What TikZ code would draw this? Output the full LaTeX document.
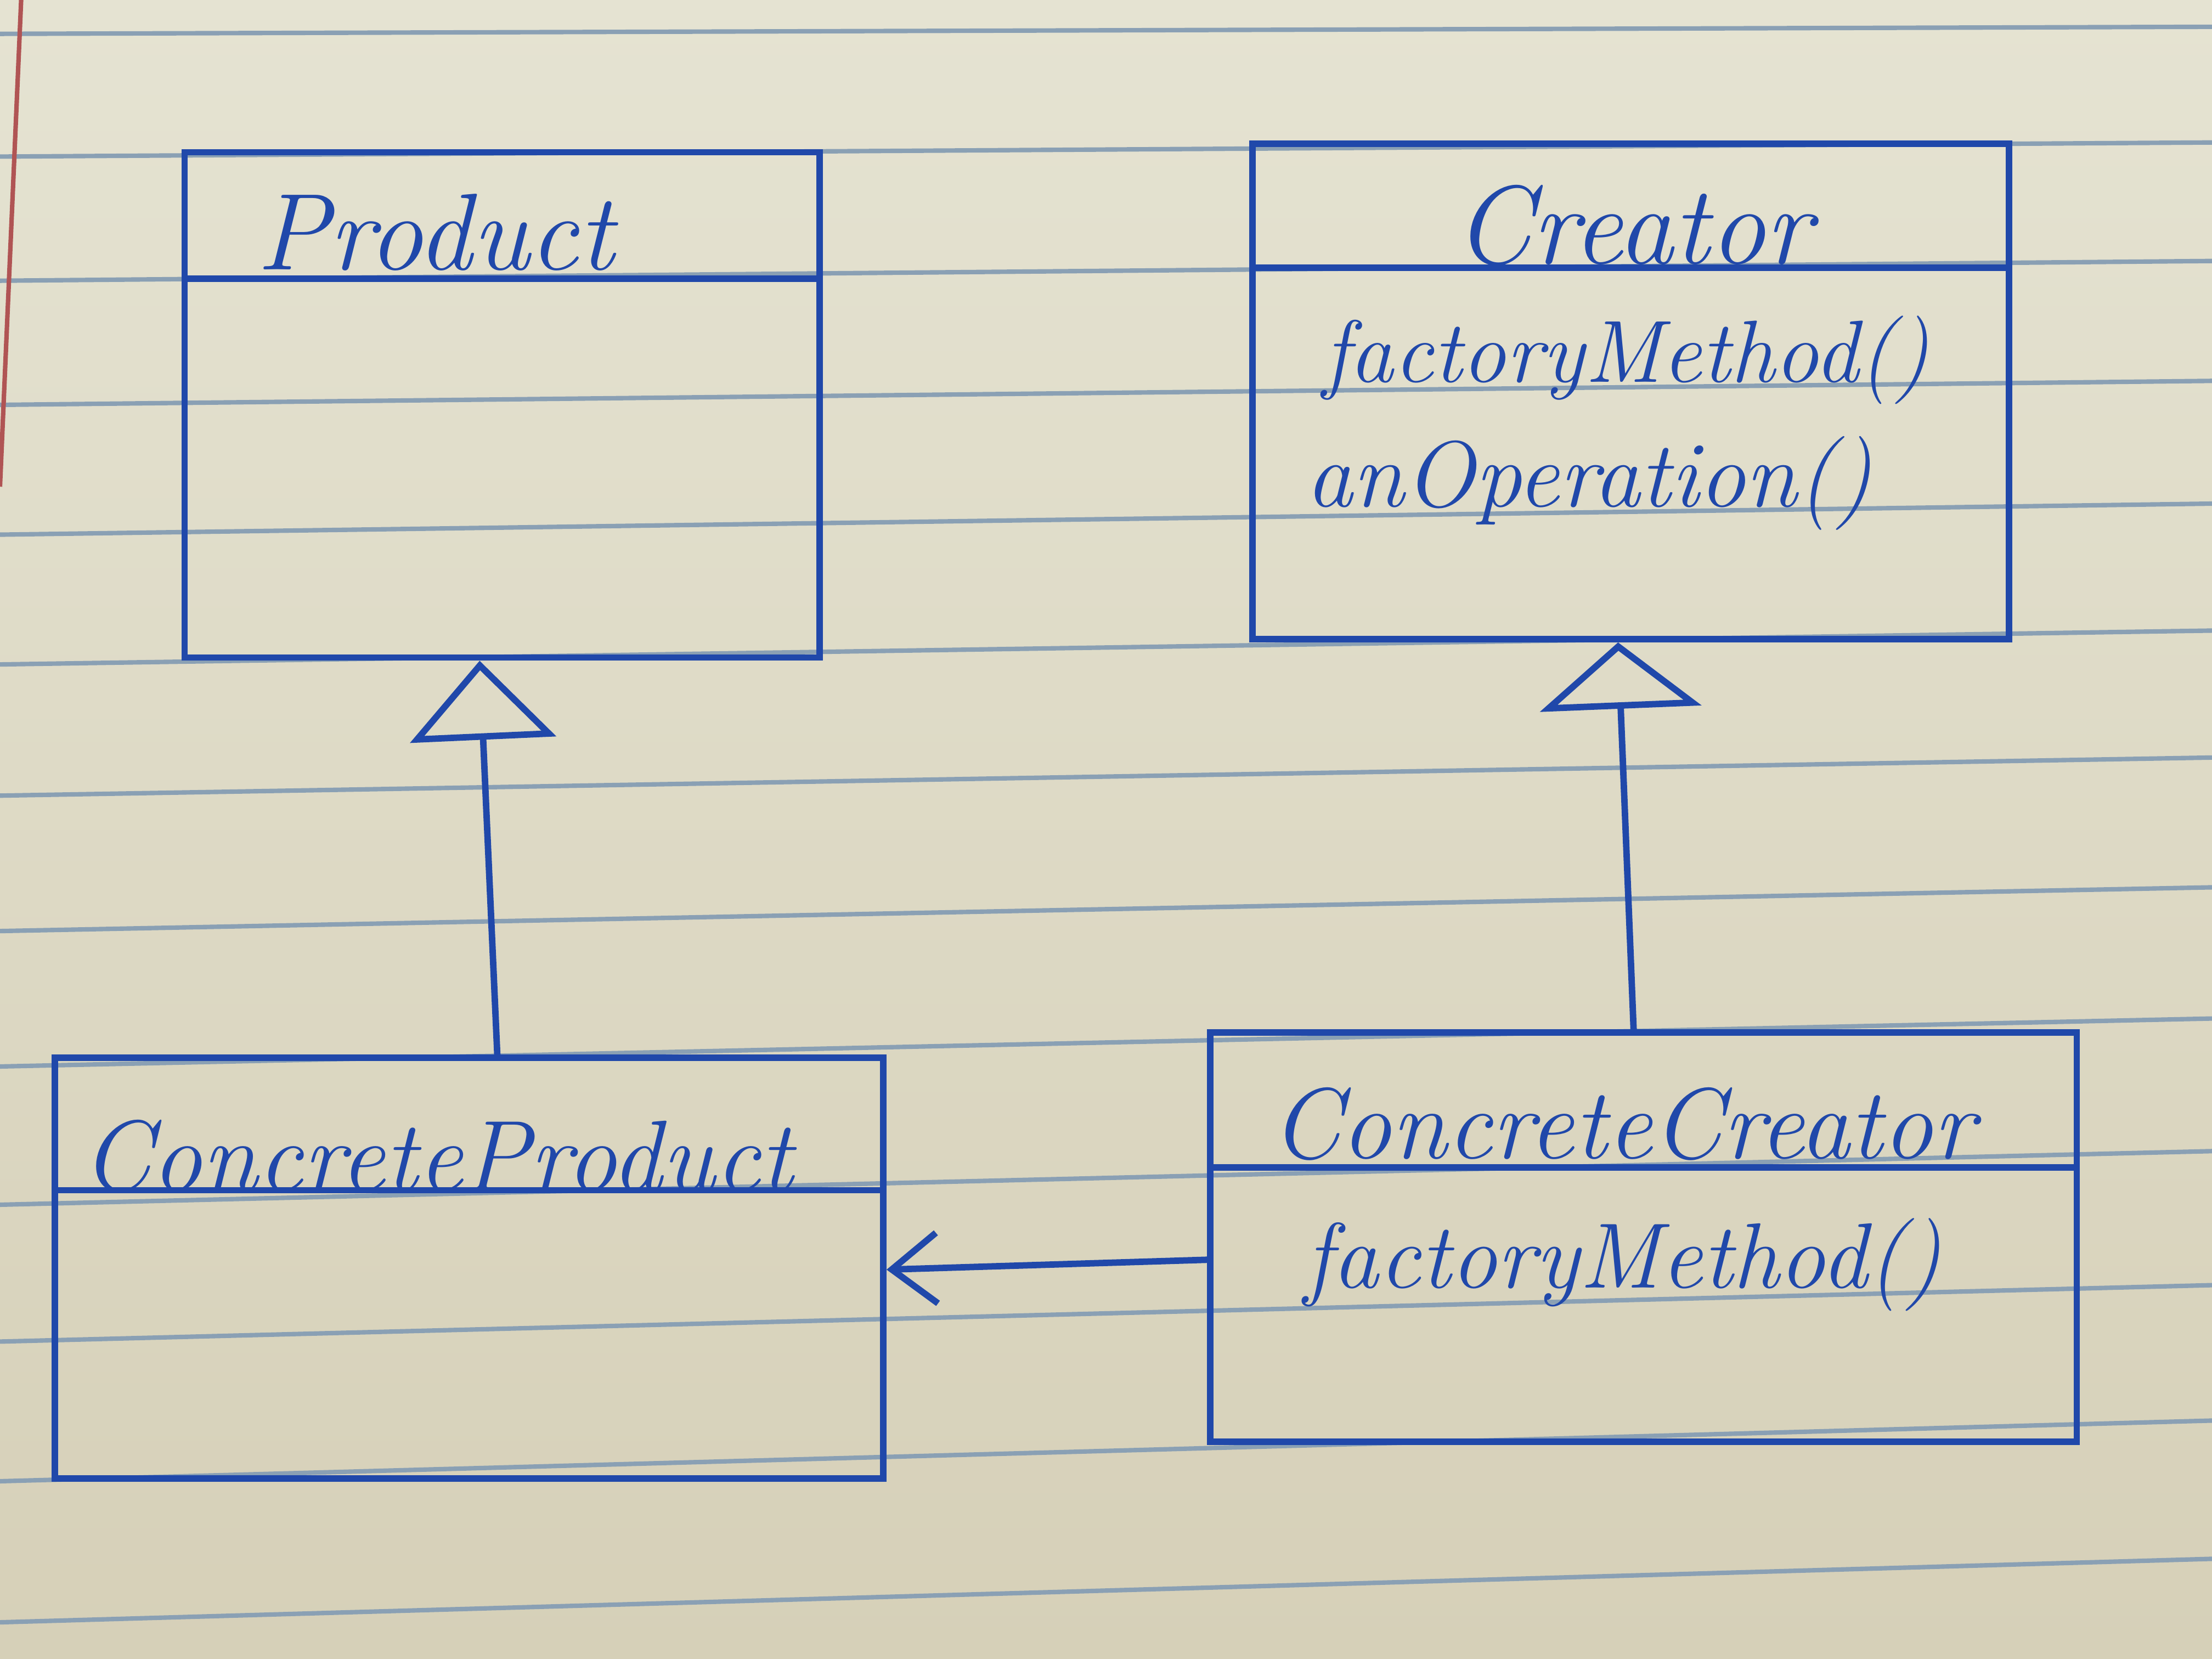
\documentclass[tikz,border=0pt]{standalone}
\usepackage{tikz}
\usetikzlibrary{arrows.meta}
\definecolor{inkblue}{RGB}{32,72,170}
\definecolor{papertop}{RGB}{229,227,210}
\definecolor{paperbot}{RGB}{214,208,184}
\definecolor{ruleblue}{RGB}{138,160,180}
\definecolor{marginred}{RGB}{176,84,84}
\tikzset{
  classbox/.style={draw=inkblue, line width=1.3pt, inner sep=0pt},
  divider/.style={draw=inkblue, line width=1.3pt},
  title/.style={text=inkblue, inner sep=0pt, font=\fontsize{22}{26}\selectfont\itshape},
  member/.style={text=inkblue, inner sep=0pt, font=\fontsize{18}{21}\selectfont\itshape},
  inherit/.style 2 args={-{Triangle[open, length=#1, width=#2]}, line width=1.3pt, draw=inkblue},
  uses/.style={-{Straight Barb[length=3.2mm, width=5mm]}, line width=1.3pt, draw=inkblue},
}
\begin{document}
\begin{tikzpicture}[x=0.01cm, y=-0.01cm]
    \useasboundingbox (0,0) rectangle (1568,1176);
    % paper
    \shade[top color=papertop, bottom color=paperbot] (0,0) rectangle (1568,1176);
    \foreach \yl/\yr in {24/19, 111/101, 199/185, 287/270, 379/357, 471/447, 564/537,
                         660/629, 756/722, 854/816, 951/911, 1050/1007, 1150/1105}
      \draw[ruleblue, line width=0.9pt] (0,\yl) -- (1568,\yr);
    \draw[marginred, line width=0.9pt] (15,0) -- (0,345);

    % classes
    \node[classbox, minimum width=4.5cm, minimum height=3.58cm] (prod) at (356,287) {};
    \node[classbox, minimum width=5.36cm, minimum height=3.51cm] (creator) at (1156,277.5) {};
    \node[classbox, minimum width=5.87cm, minimum height=2.98cm] (cprod) at (332.5,899) {};
    \node[classbox, minimum width=6.14cm, minimum height=2.90cm] (ccreator) at (1165,877) {};
    \draw[divider] ([yshift=-9.2mm]prod.north west) -- ([yshift=-9.2mm]prod.north east);
    \draw[divider] ([yshift=-9.0mm]creator.north west) -- ([yshift=-9.0mm]creator.north east);
    \draw[divider] ([yshift=-9.6mm]cprod.north west) -- ([yshift=-9.6mm]cprod.north east);
    \draw[divider] ([yshift=-9.8mm]ccreator.north west) -- ([yshift=-9.8mm]ccreator.north east);

    % labels
    \node[title, anchor=base west] (prodT) at (181,191) {Product};
    \node[title, font=\fontsize{22.5}{26}\selectfont\itshape, anchor=base west] (creatorT) at (1030,187) {Creator};
    \node[member, font=\fontsize{17.8}{21}\selectfont\itshape, anchor=base west] (fm) at (937,271) {factoryMethod()};
    \node[member, font=\fontsize{18.9}{22}\selectfont\itshape, anchor=base west] (op) at (925,359) {anOperation()};
    \node[title, font=\fontsize{20.3}{24}\selectfont\itshape, anchor=base west] (cprodT) at (57,844) {ConcreteProduct};
    \node[title, font=\fontsize{20.3}{24}\selectfont\itshape, anchor=base west] (ccreatorT) at (900,821) {ConcreteCreator};
    \node[member, font=\fontsize{18.7}{22}\selectfont\itshape, anchor=base west] (ccfm) at (924,913) {factoryMethod()};

    % relations
    \draw[inherit={5.6mm}{10.3mm}] ([xshift=2mm]cprod.north) -- ([xshift=-1.6mm]prod.south);
    \draw[inherit={4.7mm}{11.4mm}] ([xshift=-0.7mm]ccreator.north) -- ([xshift=-0.9mm]creator.south);
    \draw[uses] ([yshift=-1.6mm]ccreator.west) -- ([yshift=-0.1mm]cprod.east);
\end{tikzpicture}
\end{document}
